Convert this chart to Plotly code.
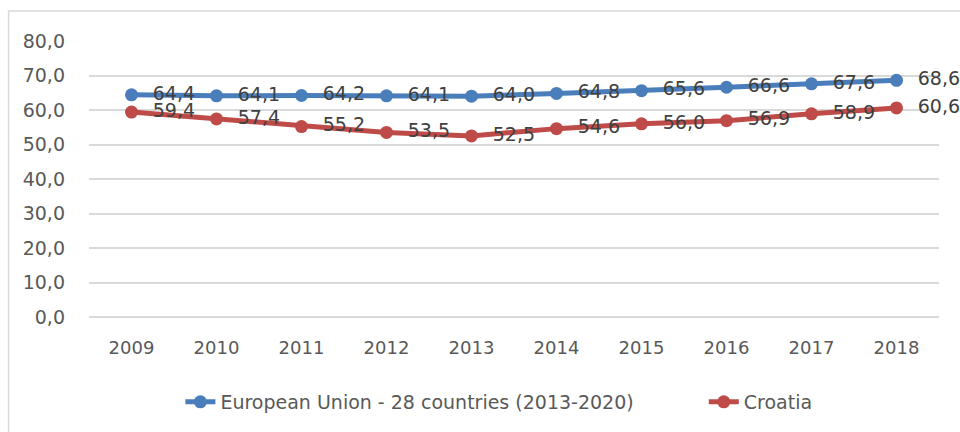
import plotly.graph_objects as go

years = ["2009", "2010", "2011", "2012", "2013", "2014", "2015", "2016", "2017", "2018"]
eu28 = [64.4, 64.1, 64.2, 64.1, 64.0, 64.8, 65.6, 66.6, 67.6, 68.6]
croatia = [59.4, 57.4, 55.2, 53.5, 52.5, 54.6, 56.0, 56.9, 58.9, 60.6]
y_ticks = [0, 10, 20, 30, 40, 50, 60, 70, 80]

FONT = "DejaVu Sans"
TXT = "#404040"
BLUE = "#4a7ebb"
RED = "#be4b48"

L, R, T, B = 88.5, 20.5, 41, 115
W, H = 960, 432
pw, ph = W - L - R, H - T - B

fig = go.Figure()
for name, vals, col, lg in [("European Union - 28 countries (2013-2020)", eu28, BLUE, "legend"),
                            ("Croatia", croatia, RED, "legend2")]:
    fig.add_trace(go.Scatter(
        x=years, y=vals, name=name, mode="lines+markers+text",
        line=dict(color=col, width=5),
        marker=dict(color=col, size=13),
        texttemplate="\u00a0\u00a0%{y:.1f}", textposition="middle right",
        textfont=dict(family=FONT, size=19, color=TXT),
        cliponaxis=False, hoverinfo="skip", legend=lg,
    ))

leg_common = dict(orientation="h", xanchor="left",
                  y=(H - B - 402) / ph, yanchor="middle",
                  font=dict(family=FONT, size=19, color="#595959"),
                  bgcolor="rgba(0,0,0,0)")

fig.update_layout(
    width=W, height=H,
    margin=dict(l=L, r=R, t=T, b=B, pad=0, autoexpand=False),
    paper_bgcolor="white", plot_bgcolor="white",
    separators=",.",
    font=dict(family=FONT, size=18, color="#595959"),
    showlegend=True,
    legend=dict(x=(180 - L) / pw, **leg_common),
    legend2=dict(x=(704 - L) / pw, **leg_common),
    xaxis=dict(type="category", range=[-0.5, len(years) - 0.5],
               showgrid=False, showline=False, zeroline=False,
               automargin=False,
               ticks="", ticklabelstandoff=18, tickfont=dict(size=18, color="#595959")),
    yaxis=dict(range=[0, 80], tickvals=y_ticks, tickformat=".1f",
               automargin=False,
               showgrid=True, gridcolor="#d9d9d9", gridwidth=1.5,
               zeroline=True, zerolinecolor="#d9d9d9", zerolinewidth=1.5,
               showline=False, ticks="", ticklabelstandoff=23,
               tickfont=dict(size=19, color="#595959")),
    shapes=[dict(type="rect", xref="paper", yref="paper",
                 x0=(8 - L) / pw, x1=(W + 20 - L) / pw,
                 y0=(H - B - (H + 20)) / ph, y1=(H - B - 11) / ph,
                 line=dict(color="#d9d9d9", width=1.5), fillcolor="rgba(0,0,0,0)",
                 layer="below")],
)

fig.write_html("out.html", config={"displayModeBar": False},
               post_script="document.body.style.margin='0';document.body.style.overflow='hidden';")
